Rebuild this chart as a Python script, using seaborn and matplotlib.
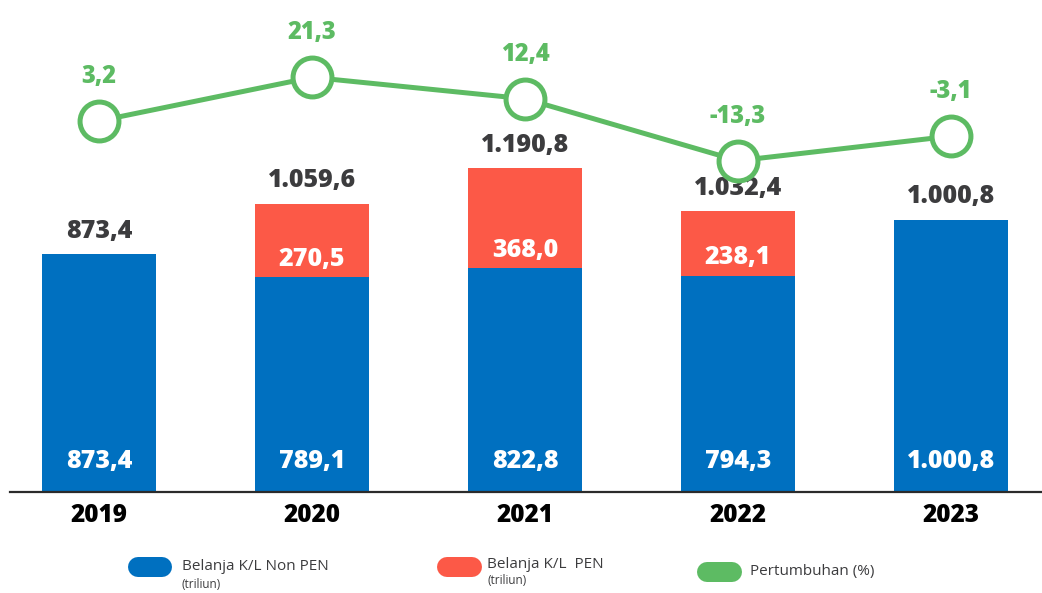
import numpy as np
import matplotlib
matplotlib.use("Agg")
import matplotlib.pyplot as plt
from matplotlib.lines import Line2D
import seaborn as sns

# data
years = ["2019", "2020", "2021", "2022", "2023"]
non_pen = [873.4, 789.1, 822.8, 794.3, 1000.8]
pen = [0.0, 270.5, 368.0, 238.1, 0.0]
totals = [873.4, 1059.6, 1190.8, 1032.4, 1000.8]
growth = [3.2, 21.3, 12.4, -13.3, -3.1]

BLUE = "#0070C0"
RED = "#FC5947"
GREEN = "#5DBB63"
DARK = "#3C3C3E"


def fmt(v):
    # indonesian number format: 1.059,6
    s = f"{v:,.1f}"
    return s.replace(",", "X").replace(".", ",").replace("X", ".")


sns.set_style("white")
plt.rcParams["font.family"] = ["Open Sans", "DejaVu Sans"]

fig = plt.figure(figsize=(10.42, 5.93), dpi=100)
ax = fig.add_axes([9.5 / 1042, 101 / 593, 1031 / 1042, 492 / 593])

# stacked bars: red drawn to the total, blue on top of it
stack = [n + p for n, p in zip(non_pen, pen)]
sns.barplot(x=years, y=stack, color=RED, width=0.535, saturation=1, linewidth=0, ax=ax)
sns.barplot(x=years, y=non_pen, color=BLUE, width=0.535, saturation=1, linewidth=0, ax=ax)

ax.set_xlim(-0.42, 4.42)
ax.set_ylim(0, 1809)
ax.set_yticks([])
ax.set_ylabel("")
ax.set_xlabel("")
for s in ["top", "right", "left"]:
    ax.spines[s].set_visible(False)
ax.spines["bottom"].set_color("#2b2b2b")
ax.spines["bottom"].set_linewidth(1.6)
ax.tick_params(axis="x", length=0, pad=8)
for lab in ax.get_xticklabels():
    lab.set_fontsize(17.5)
    lab.set_fontweight("heavy")
    lab.set_color("black")

# value labels
for i in range(len(years)):
    ax.annotate(fmt(totals[i]), (i, totals[i]), xytext=(0, 16.5), textcoords="offset points",
                ha="center", va="center", fontsize=18, fontweight="heavy", color=DARK)
    ax.annotate(fmt(non_pen[i]), (i, 0), xytext=(0, 22), textcoords="offset points",
                ha="center", va="center", fontsize=18, fontweight="heavy", color="white")
    if pen[i] > 0:
        ax.annotate(fmt(pen[i]), (i, non_pen[i]), xytext=(0, 13), textcoords="offset points",
                    ha="center", va="center", fontsize=18, fontweight="heavy", color="white")

# growth line on a second axis
ax2 = ax.twinx()
sns.pointplot(x=years, y=growth, color=GREEN, errorbar=None, markers="o",
              markersize=28, markeredgewidth=3.6, markerfacecolor="white",
              linewidth=3.6, ax=ax2)
ax2.set_xlim(-0.42, 4.42)
ax2.set_ylim(-150.8, 53.4)
ax2.set_yticks([])
ax2.set_ylabel("")
ax2.set_xlabel("")
for s in ["top", "right", "left", "bottom"]:
    ax2.spines[s].set_visible(False)
for i in range(len(years)):
    ax2.annotate(fmt(growth[i]), (i, growth[i]), xytext=(0, 32), textcoords="offset points",
                 ha="center", va="center", fontsize=17, fontweight="heavy", color=GREEN)

# legend with pill shaped keys
def pill(x0, x1, y, color):
    fig.add_artist(Line2D([x0 / 1042, x1 / 1042], [1 - y / 593, 1 - y / 593],
                          color=color, linewidth=14.4, solid_capstyle="round"))


pill(138, 162, 567, BLUE)
fig.text(182 / 1042, 1 - 567 / 593, "Belanja K/L Non PEN", fontsize=11, color=DARK, va="center")
fig.text(182 / 1042, 1 - 585 / 593, "(triliun)", fontsize=8.5, color=DARK, va="center")
pill(447, 472, 567, RED)
fig.text(487 / 1042, 1 - 564 / 593, "Belanja K/L  PEN", fontsize=11, color=DARK, va="center")
fig.text(487 / 1042, 1 - 580 / 593, "(triliun)", fontsize=8.5, color=DARK, va="center")
pill(707, 732, 572, GREEN)
fig.text(750 / 1042, 1 - 572 / 593, "Pertumbuhan (%)", fontsize=11, color=DARK, va="center")

fig.savefig("out.png", dpi=100, facecolor="white")
